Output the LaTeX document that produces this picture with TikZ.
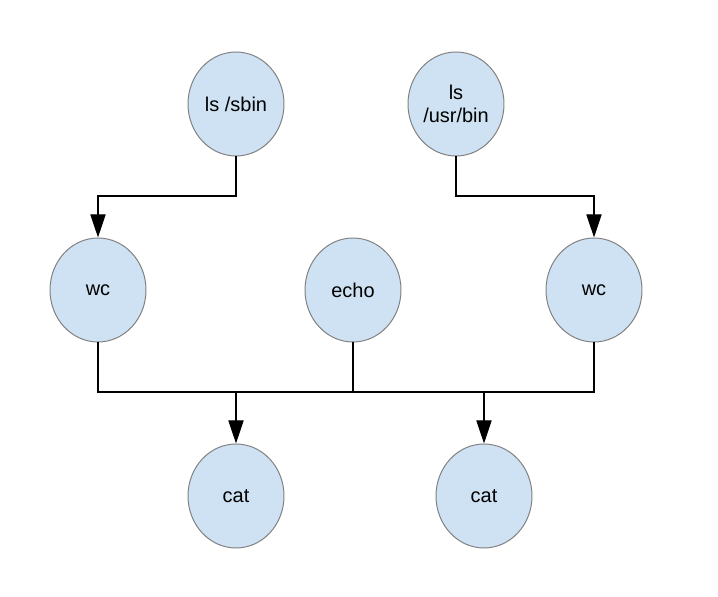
\documentclass[tikz,border=0pt]{standalone}
\usepackage{fontspec}
\setmainfont{Liberation Sans}
\usetikzlibrary{shapes.geometric,arrows.meta}
\definecolor{procfill}{HTML}{CFE2F3}
\definecolor{procline}{HTML}{808080}
\tikzset{
    proc/.style={ellipse,draw=procline,fill=procfill,line width=0.7pt,
        minimum width=2.4cm,minimum height=2.6cm,inner sep=0pt,align=center,
        font=\fontsize{14.2}{16.5}\selectfont},
    wire/.style={draw=black,line width=0.9pt},
    pipe/.style={wire,-{Triangle[length=0.58cm,width=0.38cm]}}
}
\begin{document}
\begin{tikzpicture}
        \useasboundingbox (0,0) rectangle (17.95,14.925);
        % processes
        \node[proc] at (5.9,12.325) (lssbin){ls /sbin};
        \node[proc] at (11.4,12.325) (lsusr){ls\\/usr/bin};
        \node[proc] at (2.45,7.675) (wcl){wc};
        \node[proc] at (8.825,7.675) (echo){echo};
        \node[proc] at (14.85,7.675) (wcr){wc};
        \node[proc] at (5.9,2.525) (catl){cat};
        \node[proc] at (12.1,2.525) (catr){cat};
        \coordinate (split) at (0,10.025);
        \coordinate (bus) at (0,5.125);
        % pipes
        \draw[pipe] (lssbin.south) -- (lssbin.south |- split) -| (wcl.north);
        \draw[pipe] (lsusr.south) -- (lsusr.south |- split) -| (wcr.north);
        \draw[wire] (wcl.south) -- (wcl.south |- bus) -- (wcr.south |- bus) -- (wcr.south);
        \draw[wire] (echo.south) -- (echo.south |- bus);
        \draw[pipe] (catl.north |- bus) -- (catl.north);
        \draw[pipe] (catr.north |- bus) -- (catr.north);
\end{tikzpicture}
\end{document}
